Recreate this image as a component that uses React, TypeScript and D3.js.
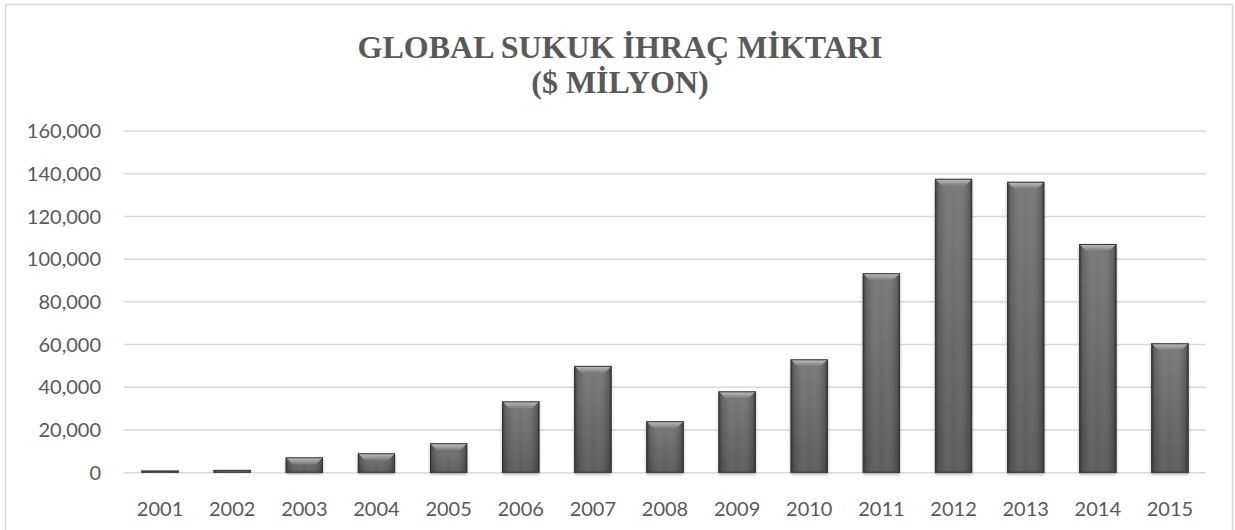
import React from "react";
import * as d3 from "d3";

const years = ["2001","2002","2003","2004","2005","2006","2007","2008","2009","2010","2011","2012","2013","2014","2015"];
const values = [1000, 1300, 7200, 9100, 13800, 33400, 50000, 24100, 38100, 53100, 93400, 137600, 136200, 107100, 60600];
const yTicks = [0, 20000, 40000, 60000, 80000, 100000, 120000, 140000, 160000];
const titleLines = ["GLOBAL SUKUK İHRAÇ MİKTARI", "($ MİLYON)"];

const W = 1235, H = 530;
const plotLeft = 124, plotRight = 1206, plotTop = 131, plotBottom = 472.7;

export default function App() {
  const x = d3.scaleBand<string>().domain(years).range([plotLeft, plotRight]).paddingInner(0.485).paddingOuter(0.2425);
  const y = d3.scaleLinear().domain([0, 160000]).range([plotBottom, plotTop]);
  const fmt = d3.format(",");
  const bw = x.bandwidth();
  const txt = "#595959";
  return (
    <svg width={W} height={H} style={{ position: "absolute", left: 0, top: 0, background: "#fff" }}>
      <defs>
        <linearGradient id="body" x1="0" y1="0" x2="0" y2="1">
          <stop offset="0" stopColor="#747474" />
          <stop offset="1" stopColor="#535353" />
        </linearGradient>
        <linearGradient id="edges" x1="0" y1="0" x2="1" y2="0">
          <stop offset="0" stopColor="#2a2a2a" stopOpacity={0.9} />
          <stop offset="0.08" stopColor="#3a3a3a" stopOpacity={0.3} />
          <stop offset="0.5" stopColor="#ffffff" stopOpacity={0.04} />
          <stop offset="0.92" stopColor="#3a3a3a" stopOpacity={0.3} />
          <stop offset="1" stopColor="#2a2a2a" stopOpacity={0.9} />
        </linearGradient>
        <linearGradient id="bevel" x1="0" y1="0" x2="0" y2="1">
          <stop offset="0" stopColor="#c4c4c4" />
          <stop offset="1" stopColor="#7a7a7a" />
        </linearGradient>
        <filter id="shadow" x="-20%" y="-5%" width="140%" height="115%">
          <feDropShadow dx="0" dy="1.5" stdDeviation="1.6" floodColor="#000" floodOpacity="0.35" />
        </filter>
      </defs>
      <rect x={5.5} y={4.5} width={1227} height={540} fill="#fff" stroke="#d9d9d9" strokeWidth={1.5} />
      <g fontFamily="'Liberation Serif', 'Times New Roman', serif" fontWeight="bold" fontSize={32} fill={txt} textAnchor="middle">
        {titleLines.map((t, i) => (
          <text key={i} x={620} y={58 + i * 35}>{t}</text>
        ))}
      </g>
      <g>
        {yTicks.map((t) => (
          <line key={t} x1={plotLeft} x2={plotRight} y1={y(t)} y2={y(t)} stroke="#d9d9d9" strokeWidth={1.5} />
        ))}
      </g>
      <g fontFamily="Lato, 'Open Sans', sans-serif" fontSize={20} fill={txt}>
        {yTicks.map((t) => (
          <text key={t} x={101} y={y(t)} dy="0.36em" textAnchor="end">{fmt(t)}</text>
        ))}
        {years.map((yr) => (
          <text key={yr} x={(x(yr) as number) + bw / 2} y={516} textAnchor="middle">{yr}</text>
        ))}
      </g>
      <g>
        {years.map((yr, i) => {
          const x0 = x(yr) as number;
          const y0 = y(values[i]);
          const h = plotBottom - y0;
          const b = Math.min(7, h / 2);
          return (
            <g key={yr}>
              <rect x={x0} y={y0} width={bw} height={h} fill="url(#body)" filter="url(#shadow)" />
              <rect x={x0} y={y0} width={bw} height={h} fill="url(#edges)" />
              <polygon
                points={`${x0},${y0} ${x0 + bw},${y0} ${x0 + bw - b},${y0 + b} ${x0 + b},${y0 + b}`}
                fill="url(#bevel)"
              />
              <rect x={x0 + 0.5} y={y0 + 0.5} width={bw - 1} height={Math.max(h - 1, 0)} fill="none" stroke="#383838" strokeWidth={1} />
            </g>
          );
        })}
      </g>
    </svg>
  );
}
